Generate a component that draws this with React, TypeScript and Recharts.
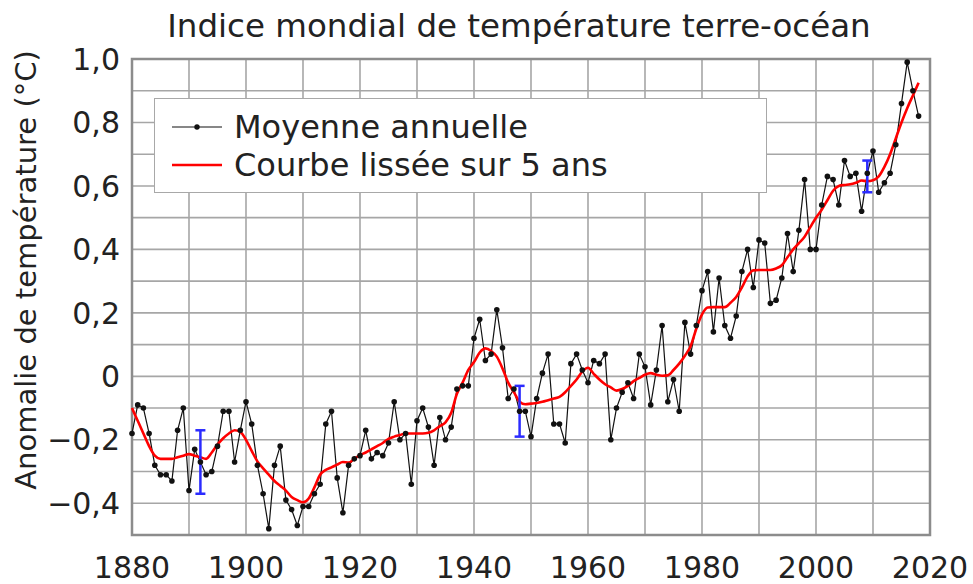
import React from 'react';
import {
  ComposedChart,
  Line,
  Scatter,
  ErrorBar,
  XAxis,
  YAxis,
  CartesianGrid,
  ReferenceArea,
  Label,
} from 'recharts';

const W = 973;
const H = 584;
const FONT = '"DejaVu Sans", Verdana, sans-serif';

const FIRST_YEAR = 1880;

// Moyenne annuelle, 1880 -> 2018
const ANNUAL: number[] = [
  -0.18, -0.09, -0.10, -0.18, -0.28, -0.31, -0.31, -0.33, -0.17, -0.10, // 1880s
  -0.36, -0.23, -0.27, -0.31, -0.30, -0.22, -0.11, -0.11, -0.27, -0.17, // 1890s
  -0.08, -0.15, -0.28, -0.37, -0.48, -0.28, -0.22, -0.39, -0.42, -0.47, // 1900s
  -0.41, -0.41, -0.37, -0.34, -0.15, -0.11, -0.32, -0.43, -0.28, -0.26, // 1910s
  -0.25, -0.17, -0.26, -0.24, -0.25, -0.21, -0.08, -0.20, -0.18, -0.34, // 1920s
  -0.14, -0.10, -0.16, -0.28, -0.13, -0.20, -0.16, -0.04, -0.03, -0.03, // 1930s
  0.12, 0.18, 0.05, 0.07, 0.21, 0.09, -0.07, -0.04, -0.11, -0.11, // 1940s
  -0.19, -0.07, 0.01, 0.07, -0.15, -0.15, -0.21, 0.04, 0.07, 0.02, // 1950s
  -0.02, 0.05, 0.04, 0.07, -0.20, -0.10, -0.05, -0.02, -0.07, 0.07, // 1960s
  0.03, -0.09, 0.02, 0.16, -0.08, -0.01, -0.11, 0.17, 0.07, 0.16, // 1970s
  0.27, 0.33, 0.14, 0.31, 0.16, 0.12, 0.19, 0.33, 0.40, 0.28, // 1980s
  0.43, 0.42, 0.23, 0.24, 0.31, 0.45, 0.33, 0.46, 0.62, 0.40, // 1990s
  0.40, 0.54, 0.63, 0.62, 0.54, 0.68, 0.63, 0.64, 0.52, 0.64, // 2000s
  0.71, 0.58, 0.61, 0.64, 0.73, 0.86, 0.99, 0.90, 0.82, // 2010s
];

// Courbe lissée sur 5 ans, 1880 -> 2018
const SMOOTH: number[] = [
  -0.10, -0.14, -0.18, -0.22, -0.25, -0.26, -0.26, -0.26, -0.255, -0.25,
  -0.245, -0.25, -0.255, -0.26, -0.24, -0.215, -0.195, -0.18, -0.17, -0.175,
  -0.20, -0.235, -0.268, -0.29, -0.31, -0.33, -0.345, -0.36, -0.38, -0.39,
  -0.397, -0.385, -0.35, -0.31, -0.295, -0.287, -0.278, -0.27, -0.272, -0.26,
  -0.248, -0.24, -0.23, -0.22, -0.21, -0.197, -0.19, -0.185, -0.18, -0.18,
  -0.18, -0.18, -0.178, -0.17, -0.157, -0.145, -0.115, -0.055, -0.02, 0.02,
  0.045, 0.075, 0.088, 0.08, 0.062, 0.025, -0.02, -0.05, -0.08, -0.088,
  -0.086, -0.084, -0.08, -0.075, -0.07, -0.065, -0.05, -0.03, -0.01, 0.015,
  0.027, 0.008, -0.01, -0.025, -0.035, -0.045, -0.04, -0.03, -0.015, -0.005,
  0.005, 0.01, 0.005, 0.002, 0.003, 0.02, 0.04, 0.065, 0.095, 0.15,
  0.195, 0.217, 0.218, 0.218, 0.218, 0.232, 0.25, 0.28, 0.315, 0.334,
  0.335, 0.335, 0.335, 0.34, 0.35, 0.375, 0.40, 0.42, 0.44, 0.47,
  0.50, 0.525, 0.555, 0.585, 0.60, 0.603, 0.605, 0.61, 0.617, 0.615,
  0.618, 0.63, 0.66, 0.70, 0.75, 0.80, 0.845, 0.885, 0.925,
];

// barres d'incertitude
const ERR_YEARS = [1892, 1948, 2009];
const ERR_CENTER = [-0.27, -0.11, 0.63];
const ERR_SIZE = [0.1, 0.08, 0.05];

const X_TICKS = [1880, 1890, 1900, 1910, 1920, 1930, 1940, 1950, 1960, 1970, 1980, 1990, 2000, 2010, 2020];
const Y_TICKS = [-0.5, -0.4, -0.3, -0.2, -0.1, 0, 0.1, 0.2, 0.3, 0.4, 0.5, 0.6, 0.7, 0.8, 0.9, 1.0];

const rows = ANNUAL.map((v, i) => ({
  year: FIRST_YEAR + i,
  annual: v,
  smooth: SMOOTH[i],
}));

const errRows = ERR_YEARS.map((y, i) => ({ year: y, value: ERR_CENTER[i], err: ERR_SIZE[i] }));

function fmtY(v: number) {
  const tenths = Math.round(v * 10);
  if (tenths % 2 !== 0) return '';
  if (tenths === 0) return '0';
  const s = Math.abs(v).toFixed(1).replace('.', ',');
  return v < 0 ? '\u2212' + s : s;
}

function fmtX(v: number) {
  return v % 20 === 0 ? String(v) : '';
}

function YTitle() {
  return (
    <text
      x={36}
      y={270}
      transform="rotate(-90 36 270)"
      textAnchor="middle"
      fontFamily={FONT}
      fontSize={29}
      fill="#222"
    >
      Anomalie de température (°C)
    </text>
  );
}

function LegendBox() {
  const row: React.CSSProperties = {
    position: 'absolute',
    left: 16,
    height: 38,
    lineHeight: '38px',
    fontSize: 32,
    display: 'flex',
    alignItems: 'center',
    whiteSpace: 'nowrap',
    color: '#222',
  };
  return (
    <div
      style={{
        position: 'absolute',
        left: 154,
        top: 98,
        width: 613,
        height: 95,
        boxSizing: 'border-box',
        border: '1.5px solid #a8a8a8',
        background: '#fff',
        fontFamily: FONT,
      }}
    >
      <div style={{ ...row, top: 8.5 }}>
        <svg width={52} height={12} style={{ marginRight: 11 }}>
          <line x1={1} y1={6} x2={51} y2={6} stroke="#111" strokeWidth={1.2} />
          <circle cx={26} cy={6} r={2.7} fill="#111" />
        </svg>
        Moyenne annuelle
      </div>
      <div style={{ ...row, top: 46.5 }}>
        <svg width={52} height={12} style={{ marginRight: 11 }}>
          <line x1={1} y1={6} x2={51} y2={6} stroke="#ff0000" strokeWidth={2.6} />
        </svg>
        Courbe lissée sur 5 ans
      </div>
    </div>
  );
}

const EmptyShape = () => <g />;

export default function App() {
  const tick = { fontFamily: FONT, fontSize: 30, fill: '#222' };
  return (
    <div style={{ position: 'absolute', left: 0, top: 0, width: W, height: H, background: '#fff' }}>
      <div
        style={{
          position: 'absolute',
          left: 65,
          top: 10,
          width: 908,
          textAlign: 'center',
          fontFamily: FONT,
          fontSize: 32.5,
          lineHeight: '32px',
          color: '#222',
          whiteSpace: 'nowrap',
        }}
      >
        Indice mondial de température terre-océan
      </div>
      <ComposedChart
        width={W}
        height={H}
        data={rows}
        margin={{ top: 59, right: 43, bottom: 0, left: 0 }}
      >
        <CartesianGrid stroke="#a6a6a6" strokeWidth={1.6} />
        <XAxis
          type="number"
          dataKey="year"
          domain={[1880, 2020]}
          ticks={X_TICKS}
          interval={0}
          tickFormatter={fmtX}
          height={49}
          axisLine={false}
          tickLine={false}
          tickSize={0}
          tickMargin={22}
          tick={tick}
        />
        <YAxis
          type="number"
          domain={[-0.5, 1.0]}
          ticks={Y_TICKS}
          interval={0}
          tickFormatter={fmtY}
          width={132}
          axisLine={false}
          tickLine={false}
          tickSize={6}
          tickMargin={6}
          tick={tick}
          allowDataOverflow
        >
          <Label content={YTitle} />
        </YAxis>
        <ReferenceArea
          x1={1880}
          x2={2020}
          y1={-0.5}
          y2={1.0}
          fill="none"
          stroke="#8c8c8c"
          strokeWidth={2.5}
        />
        <Line
          type="linear"
          dataKey="annual"
          stroke="#111"
          strokeWidth={1.2}
          dot={{ r: 2.8, fill: '#111', stroke: '#111', strokeWidth: 0 }}
          activeDot={false}
          isAnimationActive={false}
        />
        <Line
          type="monotone"
          dataKey="smooth"
          stroke="#ff0000"
          strokeWidth={2.6}
          dot={false}
          activeDot={false}
          isAnimationActive={false}
        />
        <Scatter data={errRows} dataKey="value" shape={EmptyShape} isAnimationActive={false}>
          <ErrorBar dataKey="err" direction="y" width={5} stroke="#2b2bff" strokeWidth={2.5} />
        </Scatter>
      </ComposedChart>
      <LegendBox />
    </div>
  );
}
